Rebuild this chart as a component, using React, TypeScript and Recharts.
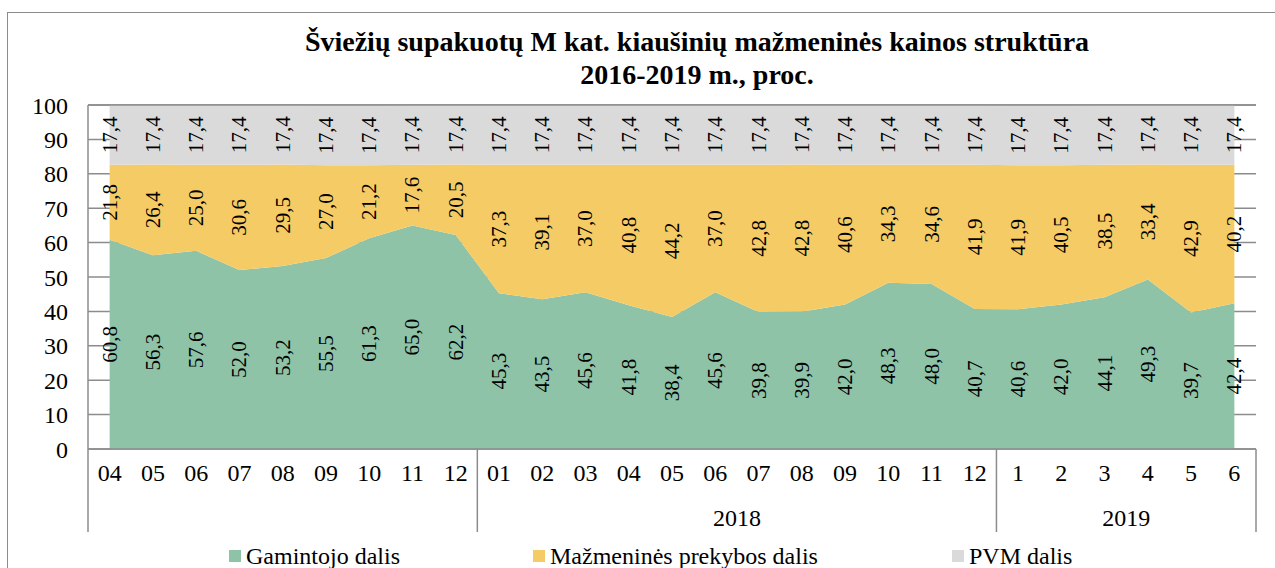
import { Area, AreaChart, CartesianGrid, LabelList, Line, ReferenceLine, XAxis, YAxis } from "recharts"

const months = ["04", "05", "06", "07", "08", "09", "10", "11", "12", "01", "02", "03", "04", "05", "06", "07", "08", "09", "10", "11", "12", "1", "2", "3", "4", "5", "6"]
const gamintojo = [60.8, 56.3, 57.6, 52.0, 53.2, 55.5, 61.3, 65.0, 62.2, 45.3, 43.5, 45.6, 41.8, 38.4, 45.6, 39.8, 39.9, 42.0, 48.3, 48.0, 40.7, 40.6, 42.0, 44.1, 49.3, 39.7, 42.4]
const mazmenines = [21.8, 26.4, 25.0, 30.6, 29.5, 27.0, 21.2, 17.6, 20.5, 37.3, 39.1, 37.0, 40.8, 44.2, 37.0, 42.8, 42.8, 40.6, 34.3, 34.6, 41.9, 41.9, 40.5, 38.5, 33.4, 42.9, 40.2]
const pvm = [17.4, 17.4, 17.4, 17.4, 17.4, 17.4, 17.4, 17.4, 17.4, 17.4, 17.4, 17.4, 17.4, 17.4, 17.4, 17.4, 17.4, 17.4, 17.4, 17.4, 17.4, 17.4, 17.4, 17.4, 17.4, 17.4, 17.4]
const yTicks = [0, 10, 20, 30, 40, 50, 60, 70, 80, 90, 100]
// year label sits between these two month indexes
const years = [{ after: 14, text: "2018" }, { after: 23, text: "2019" }]
const groupStarts = [0, 9, 21]

const series = [
  { name: "Gamintojo dalis", color: "#8EC3A8" },
  { name: "Mažmeninės prekybos dalis", color: "#F5CB65" },
  { name: "PVM dalis", color: "#DADADA" },
]

const W = 1275
const H = 568
const LEFT = 88
const RIGHT = 19
const STEP = (W - LEFT - RIGHT) / months.length
const FONT = "'Liberation Serif', 'Times New Roman', serif"
const AXIS_GRAY = "#8c8c8c"

const data = months.map((m, i) => ({
  m,
  g: gamintojo[i],
  y: mazmenines[i],
  p: pvm[i],
  gMid: gamintojo[i] / 2,
  yMid: gamintojo[i] + mazmenines[i] / 2,
  pMid: gamintojo[i] + mazmenines[i] + pvm[i] / 2,
}))

const fmt = (v: number) => v.toFixed(1).replace(".", ",")

function VLabel(props: any) {
  const { x, y, value } = props
  return (
    <text
      x={x}
      y={y}
      transform={`rotate(-90 ${x} ${y})`}
      textAnchor="middle"
      dominantBaseline="central"
      fontFamily={FONT}
      fontSize={21}
      fill="#000"
    >
      {fmt(value)}
    </text>
  )
}

function MonthTick(props: any) {
  const { x, y, payload, index } = props
  const seps: number[] = []
  if (groupStarts.includes(index)) seps.push(x - STEP / 2)
  if (index === months.length - 1) seps.push(x + STEP / 2)
  return (
    <g>
      {seps.map((sx) => (
        <line key={sx} x1={sx} x2={sx} y1={y} y2={y + 83} stroke={AXIS_GRAY} strokeWidth={1.5} />
      ))}
      <text x={x} y={y + 32} textAnchor="middle" fontFamily={FONT} fontSize={24} fill="#000">
        {payload.value}
      </text>
    </g>
  )
}

function YearTick(props: any) {
  const { x, y, index } = props
  const yr = years.find((v) => v.after === index)
  if (!yr) return <g />
  return (
    <text x={x + STEP / 2} y={y + 32} textAnchor="middle" fontFamily={FONT} fontSize={24} fill="#000">
      {yr.text}
    </text>
  )
}

const legendPos = [229, 533, 952]

export default function App() {
  return (
    <div style={{ position: "absolute", left: 0, top: 0, width: W, height: H, overflow: "hidden", background: "#fff" }}>
      <div
        style={{
          position: "absolute",
          left: 7,
          top: 12,
          width: 1400,
          height: 700,
          border: `1.5px solid ${AXIS_GRAY}`,
          boxSizing: "border-box",
        }}
      />
      <div
        style={{
          position: "absolute",
          left: 0,
          top: 25,
          width: 1394,
          textAlign: "center",
          fontFamily: FONT,
          fontWeight: "bold",
          fontSize: 28,
          lineHeight: "33px",
          color: "#000",
        }}
      >
        Šviežių supakuotų M kat. kiaušinių mažmeninės kainos struktūra
        <br />
        2016-2019 m., proc.
      </div>
      <AreaChart width={W} height={H} data={data} margin={{ top: 105, right: RIGHT, left: 0, bottom: 34 }}>
        <CartesianGrid vertical={false} stroke={AXIS_GRAY} strokeWidth={1.5} />
        <XAxis
          dataKey="m"
          interval={0}
          height={45}
          padding={{ left: STEP / 2, right: STEP / 2 }}
          tickLine={false}
          tickSize={0}
          tickMargin={0}
          axisLine={{ stroke: AXIS_GRAY, strokeWidth: 1.5 }}
          tick={<MonthTick />}
        />
        <XAxis
          xAxisId="yr"
          dataKey="m"
          interval={0}
          height={40}
          padding={{ left: STEP / 2, right: STEP / 2 }}
          tickLine={false}
          tickSize={0}
          tickMargin={0}
          axisLine={false}
          tick={<YearTick />}
        />
        <YAxis
          width={LEFT}
          domain={[0, 100]}
          ticks={yTicks}
          allowDataOverflow
          tickLine={false}
          tickSize={0}
          tickMargin={20}
          axisLine={{ stroke: AXIS_GRAY, strokeWidth: 1.5 }}
          tick={{ fontFamily: FONT, fontSize: 24, fill: "#000" }}
        />
        <Area type="linear" dataKey="g" stackId="s" stroke="none" fill={series[0].color} fillOpacity={1} isAnimationActive={false} />
        <Area type="linear" dataKey="y" stackId="s" stroke="none" fill={series[1].color} fillOpacity={1} isAnimationActive={false} />
        <Area type="linear" dataKey="p" stackId="s" stroke="none" fill={series[2].color} fillOpacity={1} isAnimationActive={false} />
        <ReferenceLine y={100} stroke={AXIS_GRAY} strokeWidth={1.5} />
        <Line dataKey="gMid" stroke="none" dot={false} activeDot={false} isAnimationActive={false}>
          <LabelList dataKey="g" content={<VLabel />} />
        </Line>
        <Line dataKey="yMid" stroke="none" dot={false} activeDot={false} isAnimationActive={false}>
          <LabelList dataKey="y" content={<VLabel />} />
        </Line>
        <Line dataKey="pMid" stroke="none" dot={false} activeDot={false} isAnimationActive={false}>
          <LabelList dataKey="p" content={<VLabel />} />
        </Line>
      </AreaChart>
      {series.map((s, i) => (
        <div
          key={s.name}
          style={{
            position: "absolute",
            left: legendPos[i],
            top: 542,
            display: "flex",
            alignItems: "center",
            fontFamily: FONT,
            fontSize: 24,
            lineHeight: "28px",
            color: "#000",
            whiteSpace: "nowrap",
          }}
        >
          <span style={{ display: "inline-block", width: 12, height: 12, background: s.color, marginRight: 5 }} />
          {s.name}
        </div>
      ))}
    </div>
  )
}
